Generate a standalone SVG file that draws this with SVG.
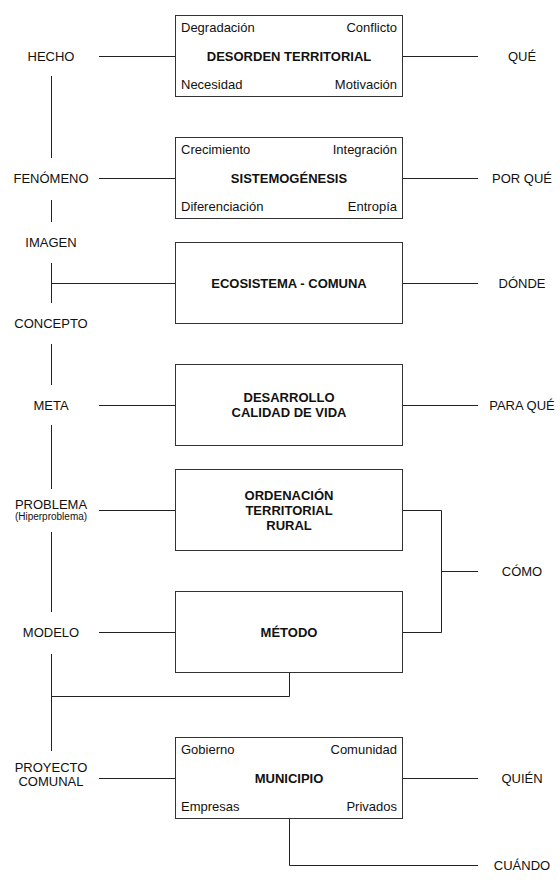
<svg xmlns="http://www.w3.org/2000/svg" width="560" height="887" viewBox="0 0 560 887">
<style>
text{font-family:"Liberation Sans",Arial,sans-serif;fill:#111;font-size:13px}
.m{text-anchor:middle}
.e{text-anchor:end}
.b{font-weight:bold}
.s{font-size:10px}
.box{fill:#fff;stroke:#333;stroke-width:1}
.c line,.c polyline{stroke:#222;stroke-width:1;fill:none}
</style>
<rect width="560" height="887" fill="#fff"/>
<g class="c" id="connectors">
<line x1="51.5" y1="76" x2="51.5" y2="158"/>
<line x1="51.5" y1="200" x2="51.5" y2="222"/>
<line x1="51.5" y1="263" x2="51.5" y2="303"/>
<line x1="51.5" y1="344" x2="51.5" y2="385"/>
<line x1="51.5" y1="425" x2="51.5" y2="489"/>
<line x1="51.5" y1="532" x2="51.5" y2="612"/>
<line x1="51.5" y1="654" x2="51.5" y2="751"/>
<line x1="51.5" y1="283.5" x2="175.5" y2="283.5"/>
<polyline points="51.5,696.5 289.5,696.5 289.5,672.5"/>
<polyline points="289.5,818.5 289.5,865.5 478,865.5"/>
<line x1="99" y1="56.5" x2="175.5" y2="56.5"/>
<line x1="99" y1="178.5" x2="175.5" y2="178.5"/>
<line x1="99" y1="405.5" x2="175.5" y2="405.5"/>
<line x1="99" y1="510.5" x2="175.5" y2="510.5"/>
<line x1="99" y1="632.5" x2="175.5" y2="632.5"/>
<line x1="99" y1="778.5" x2="175.5" y2="778.5"/>
<line x1="402.5" y1="56.5" x2="478" y2="56.5"/>
<line x1="402.5" y1="178.5" x2="478" y2="178.5"/>
<line x1="402.5" y1="283.5" x2="478" y2="283.5"/>
<line x1="402.5" y1="405.5" x2="478" y2="405.5"/>
<line x1="402.5" y1="778.5" x2="478" y2="778.5"/>
<polyline points="402.5,510.5 441.5,510.5 441.5,632.5 402.5,632.5"/>
<line x1="441.5" y1="571.5" x2="478" y2="571.5"/>
</g>
<g id="labels-left">
<text class="m" x="51" y="61">HECHO</text>
<text class="m" x="51" y="183">FENÓMENO</text>
<text class="m" x="51" y="247">IMAGEN</text>
<text class="m" x="51" y="328">CONCEPTO</text>
<text class="m" x="51" y="410">META</text>
<text class="m" x="51" y="509">PROBLEMA</text>
<text class="m s" x="51" y="520">(Hiperproblema)</text>
<text class="m" x="51" y="772">PROYECTO</text>
<text class="m" x="51" y="786">COMUNAL</text>
<text class="m" x="51" y="637">MODELO</text>
</g>
<g id="labels-right">
<text class="m" x="522" y="61">QUÉ</text>
<text class="m" x="522" y="183">POR QUÉ</text>
<text class="m" x="522" y="288">DÓNDE</text>
<text class="m" x="522" y="410">PARA QUÉ</text>
<text class="m" x="522" y="576">CÓMO</text>
<text class="m" x="522" y="783">QUIÉN</text>
<text class="m" x="522" y="870">CUÁNDO</text>
</g>
<g id="node-desorden">
<rect class="box" x="175.5" y="15.5" width="227" height="81"/>
<text x="181" y="32">Degradación</text>
<text class="e" x="397" y="32">Conflicto</text>
<text class="m b" x="289" y="61">DESORDEN TERRITORIAL</text>
<text x="181" y="89">Necesidad</text>
<text class="e" x="397" y="89">Motivación</text>
</g>
<g id="node-sistemogenesis">
<rect class="box" x="175.5" y="137.5" width="227" height="81"/>
<text x="181" y="154">Crecimiento</text>
<text class="e" x="397" y="154">Integración</text>
<text class="m b" x="289" y="183">SISTEMOGÉNESIS</text>
<text x="181" y="211">Diferenciación</text>
<text class="e" x="397" y="211">Entropía</text>
</g>
<g id="node-ecosistema">
<rect class="box" x="175.5" y="242.5" width="227" height="81"/>
<text class="m b" x="289" y="288">ECOSISTEMA - COMUNA</text>
</g>
<g id="node-desarrollo">
<rect class="box" x="175.5" y="364.5" width="227" height="81"/>
<text class="m b" x="289" y="402">DESARROLLO</text>
<text class="m b" x="289" y="417">CALIDAD DE VIDA</text>
</g>
<g id="node-ordenacion">
<rect class="box" x="175.5" y="469.5" width="227" height="81"/>
<text class="m b" x="289" y="500">ORDENACIÓN</text>
<text class="m b" x="289" y="515">TERRITORIAL</text>
<text class="m b" x="289" y="530">RURAL</text>
</g>
<g id="node-metodo">
<rect class="box" x="175.5" y="591.5" width="227" height="81"/>
<text class="m b" x="289" y="637">MÉTODO</text>
</g>
<g id="node-municipio">
<rect class="box" x="175.5" y="737.5" width="227" height="81"/>
<text x="181" y="754">Gobierno</text>
<text class="e" x="397" y="754">Comunidad</text>
<text class="m b" x="289" y="783">MUNICIPIO</text>
<text x="181" y="811">Empresas</text>
<text class="e" x="397" y="811">Privados</text>
</g>
</svg>
